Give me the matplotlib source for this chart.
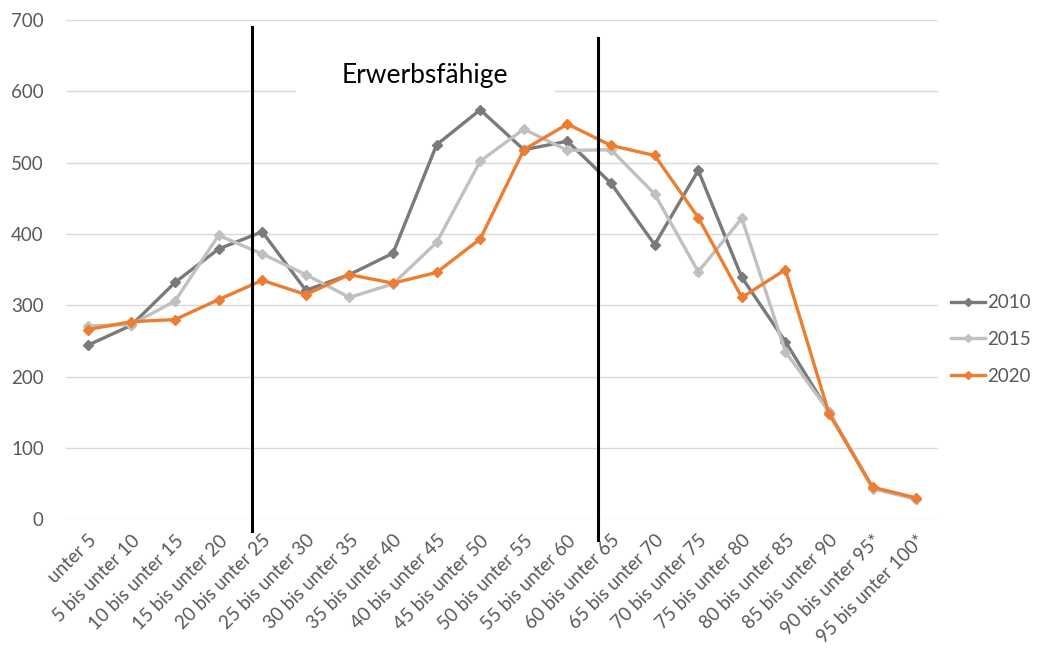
import numpy as np
import matplotlib
matplotlib.use("Agg")
import matplotlib.pyplot as plt
from matplotlib.patches import Rectangle

plt.rcParams["font.family"] = ["Lato", "DejaVu Sans"]

# age groups
categories = ["unter 5", "5 bis unter 10", "10 bis unter 15", "15 bis unter 20",
              "20 bis unter 25", "25 bis unter 30", "30 bis unter 35", "35 bis unter 40",
              "40 bis unter 45", "45 bis unter 50", "50 bis unter 55", "55 bis unter 60",
              "60 bis unter 65", "65 bis unter 70", "70 bis unter 75", "75 bis unter 80",
              "80 bis unter 85", "85 bis unter 90", "90 bis unter 95*", "95 bis unter 100*"]

v2010 = [244, 272, 332, 379, 403, 321, 343, 373, 525, 574, 518, 530,
         471, 385, 489, 339, 249, 150, 44, 29]
v2015 = [271, 273, 306, 398, 372, 343, 311, 330, 388, 502, 547, 517,
         518, 456, 347, 422, 235, 151, 43, 28]
v2020 = [266, 277, 280, 308, 335, 315, 343, 331, 346, 393, 518, 554,
         524, 510, 423, 311, 350, 148, 45, 30]

series = [("2010", v2010, "#7a7a7a"),
          ("2015", v2015, "#c0c0c0"),
          ("2020", v2020, "#ed7d31")]

fig = plt.figure(figsize=(10.38, 6.63), dpi=100)
ax = fig.add_axes([0.0636, 0.2167, 0.8401, 0.7533])

x = np.arange(len(categories))
for name, vals, col in series:
    ax.plot(x, vals, color=col, lw=2.4, marker="D", ms=5, label=name, zorder=3)

ax.set_xlim(-0.5, len(categories) - 0.5)
ax.set_ylim(0, 700)
ax.set_yticks(range(0, 701, 100))
ax.set_xticks(x)
ax.set_xticklabels(categories, rotation=45, ha="right", rotation_mode="anchor")
ax.tick_params(length=0, labelsize=13.5, colors="#595959")
ax.tick_params(axis="x", pad=9)
ax.tick_params(axis="y", pad=16)
ax.grid(axis="y", color="#d9d9d9", lw=1, zorder=0)
ax.set_axisbelow(True)
for s in ax.spines.values():
    s.set_visible(False)

# working-age markers
ax.plot([3.76, 3.76], [690, -16], color="black", lw=2.2, clip_on=False, zorder=5)
ax.plot([11.7, 11.7], [674, -29], color="black", lw=2.2, clip_on=False, zorder=5)

ax.add_patch(Rectangle((4.77, 585), 5.94, 50, facecolor="white", edgecolor="none", zorder=1))
ax.text(7.73, 622, "Erwerbsfähige", ha="center", va="center", fontsize=19, color="black", zorder=2)

ax.legend(loc="center left", bbox_to_anchor=(1.0, 0.36), frameon=False, fontsize=13.5,
          labelcolor="#595959", handlelength=1.8, handletextpad=0.1, labelspacing=1.05,
          borderaxespad=0.3, markerscale=0.8)

fig.savefig("out.png", dpi=100)
